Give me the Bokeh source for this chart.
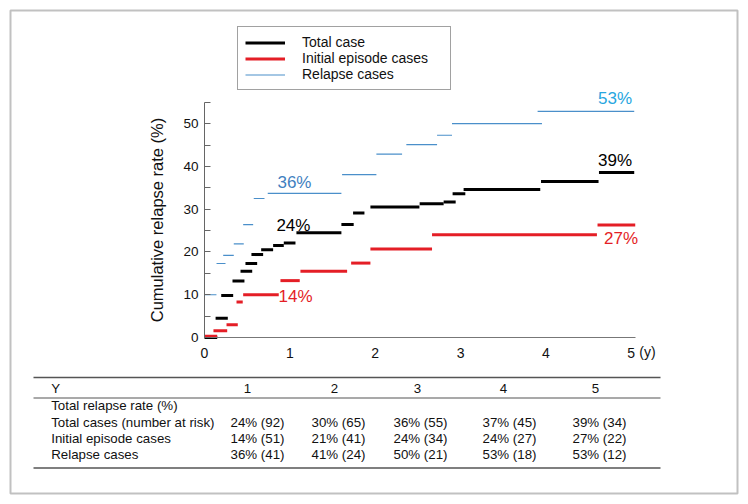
from bokeh.plotting import figure
from bokeh.models import (Range1d, FixedTicker, Label, BoxAnnotation, Legend,
                          LegendItem, ColumnDataSource)
from bokeh.embed import file_html
from bokeh.resources import INLINE

# ---------------- data ----------------
# Total case: step segments (start year, end year, cumulative relapse %)
total_start = [0.00, 0.13, 0.196, 0.328, 0.422, 0.480, 0.550, 0.664, 0.804, 0.929,
               1.077, 1.604, 1.741, 1.944, 2.521, 2.802, 2.907, 3.036, 3.943, 4.622]
total_end   = [0.149, 0.273, 0.336, 0.468, 0.559, 0.617, 0.687, 0.804, 0.929, 1.066,
               1.604, 1.748, 1.874, 2.518, 2.802, 2.943, 3.056, 3.934, 4.617, 5.035]
total_rate  = [0.0, 4.5, 9.8, 13.2, 15.5, 17.3, 19.4, 20.5, 21.5, 22.1,
               24.5, 26.4, 29.1, 30.5, 31.3, 31.7, 33.6, 34.6, 36.5, 38.6]

# Initial episode cases
initial_start = [0.00, 0.105, 0.258, 0.375, 0.453, 0.890, 1.124, 1.718, 1.944, 2.666, 4.605]
initial_end   = [0.149, 0.266, 0.390, 0.448, 0.870, 1.116, 1.671, 1.944, 2.666, 4.598, 5.047]
initial_rate  = [0.3, 1.6, 3.0, 8.3, 10.0, 13.3, 15.5, 17.4, 20.7, 24.0, 26.3]

# Relapse cases
relapse_start = [0.00, 0.141, 0.219, 0.343, 0.453, 0.577, 0.741, 1.612, 2.014, 2.365,
                 2.725, 2.900, 3.903]
relapse_end   = [0.14, 0.246, 0.343, 0.460, 0.570, 0.703, 1.604, 2.014, 2.315, 2.725,
                 2.900, 3.954, 5.035]
relapse_rate  = [10.0, 17.3, 19.2, 21.9, 26.4, 32.5, 33.7, 38.1, 42.9, 45.1,
                 47.3, 50.0, 52.9]

series_names = ["Total case", "Initial episode cases", "Relapse cases"]

x_ticks = [0, 1, 2, 3, 4, 5]
y_major = [0, 10, 20, 30, 40, 50]
y_minor = [5, 15, 25, 35, 45, 55]

# Annotated percentages
annot_text = ["36%", "24%", "14%", "53%", "39%", "27%"]

# Table
table_years = ["1", "2", "3", "4", "5"]
row_names = ["Total relapse rate (%)", "Total cases (number at risk)",
             "Initial episode cases", "Relapse cases"]
total_pct = [24, 30, 36, 37, 39]
total_n = [92, 65, 55, 45, 34]
initial_pct = [14, 21, 24, 24, 27]
initial_n = [51, 41, 34, 27, 22]
relapse_pct = [36, 41, 50, 53, 53]
relapse_n = [41, 24, 21, 18, 12]

# ---------------- styling / layout ----------------
FONT = "Liberation Sans"
BLACK = "#000000"
RED = "#e41e26"
BLUE = "#4a8fca"
W, H = 740, 496

# chart region inside the canvas (pixels): x 0 -> 204, 5.05 -> 635 ; y 0 -> 337, 55 -> 101.8
X_END, Y_END = 5.05, 55.0
PX_L, PX_R, PY_B, PY_T = 204.0, 635.0, 337.0, 101.8
sx = (PX_R - PX_L) / X_END
sy = (PY_B - PY_T) / Y_END
x_lo = -PX_L / sx
x_hi = x_lo + W / sx
y_lo = -(H - PY_B) / sy
y_hi = y_lo + H / sy

p = figure(width=W, height=H, output_backend="svg", toolbar_location=None,
           x_range=Range1d(x_lo, x_hi), y_range=Range1d(y_lo, y_hi),
           min_border=0, min_border_left=0, min_border_right=0,
           min_border_top=0, min_border_bottom=0)
p.background_fill_color = "white"
p.border_fill_color = "white"
p.outline_line_color = None
p.xgrid.visible = False
p.ygrid.visible = False

xa = p.xaxis[0]
xa.fixed_location = 0
xa.bounds = (0, X_END)
xa.ticker = FixedTicker(ticks=x_ticks)
xa.major_tick_in = 0
xa.major_tick_out = 0
xa.minor_tick_in = 0
xa.minor_tick_out = 0
xa.axis_line_color = "#777777"
xa.major_label_text_font = FONT
xa.major_label_text_font_size = "14px"
xa.major_label_text_color = "#111111"
xa.major_label_standoff = 10

ya = p.yaxis[0]
ya.fixed_location = 0
ya.bounds = (0, Y_END)
ya.ticker = FixedTicker(ticks=y_major, minor_ticks=y_minor)
ya.major_tick_in = 6
ya.major_tick_out = 0
ya.minor_tick_in = 6
ya.minor_tick_out = 0
ya.axis_line_color = "#666666"
ya.major_tick_line_color = "#666666"
ya.minor_tick_line_color = "#666666"
ya.major_label_text_font = FONT
ya.major_label_text_font_size = "13.5px"
ya.major_label_text_color = "#111111"
ya.major_label_standoff = 6
ya.axis_label = "Cumulative relapse rate (%)"
ya.axis_label_text_font = FONT
ya.axis_label_text_font_size = "16.5px"
ya.axis_label_text_font_style = "normal"
ya.axis_label_text_color = "#111111"
ya.axis_label_standoff = 14

src_total = ColumnDataSource(dict(x0=total_start, x1=total_end, y=total_rate))
src_init = ColumnDataSource(dict(x0=initial_start, x1=initial_end, y=initial_rate))
src_rel = ColumnDataSource(dict(x0=relapse_start, x1=relapse_end, y=relapse_rate))

r_total = p.segment(x0="x0", y0="y", x1="x1", y1="y", source=src_total,
                    line_color=BLACK, line_width=3)
r_init = p.segment(x0="x0", y0="y", x1="x1", y1="y", source=src_init,
                   line_color=RED, line_width=3)
r_rel = p.segment(x0="x0", y0="y", x1="x1", y1="y", source=src_rel,
                  line_color=BLUE, line_width=1.2)

legend = Legend(items=[LegendItem(label=series_names[0], renderers=[r_total]),
                       LegendItem(label=series_names[1], renderers=[r_init]),
                       LegendItem(label=series_names[2], renderers=[r_rel])],
                location=(237, H - 90), orientation="vertical",
                border_line_color="#444444", border_line_width=1,
                background_fill_color="white", background_fill_alpha=1,
                padding=7, spacing=0, margin=0,
                glyph_width=40, glyph_height=15, label_height=15,
                label_standoff=17, label_width=141,
                label_text_font=FONT, label_text_font_size="14px",
                label_text_color="#111111")
p.add_layout(legend)

# percentage annotations (data coordinates)
annot_x = [1.054, 1.042, 1.066, 4.81, 4.81, 4.88]
annot_y = [36.3, 26.2, 9.6, 55.8, 41.4, 23.1]
annot_colors = ["#3f7fc0", BLACK, RED, "#27a6e0", BLACK, RED]
for t, x, y, c in zip(annot_text, annot_x, annot_y, annot_colors):
    p.add_layout(Label(x=x, y=y, text=t, text_align="center", text_baseline="middle",
                       text_font=FONT, text_font_size="17px", text_color=c))

# "(y)" unit after the last x tick label
p.add_layout(Label(x=5, y=351.5, x_units="data", y_units="canvas", x_offset=8,
                   text="(y)", text_align="left", text_baseline="middle",
                   text_font=FONT, text_font_size="14px", text_color="#111111"))

# ---------------- table below the chart ----------------
def hline(y, thick, color="#555555", left=33, right=660):
    return BoxAnnotation(left=left, right=right, top=y - thick / 2, bottom=y + thick / 2,
                         left_units="canvas", right_units="canvas",
                         top_units="canvas", bottom_units="canvas",
                         fill_color=color, fill_alpha=1, line_color=None)

p.add_layout(hline(377, 1.3))
p.add_layout(hline(397.5, 1.1))
p.add_layout(hline(467.5, 1.3))

row_y = [388, 405.3, 422, 438, 453.7]
head_x = [247, 334, 417, 503, 595]
val_x = [257, 338, 420, 509, 599]
TFS = "13.3px"

def tlabel(x, y, text, align):
    return Label(x=x, y=y, x_units="canvas", y_units="canvas", text=text,
                 text_align=align, text_baseline="middle", text_font=FONT,
                 text_font_size=TFS, text_color="#111111")

p.add_layout(tlabel(50.7, row_y[0], "Y", "left"))
for name, y in zip(row_names, row_y[1:]):
    p.add_layout(tlabel(50.7, y, name, "left"))
for yr, x in zip(table_years, head_x):
    p.add_layout(tlabel(x, row_y[0], yr, "center"))
for pcts, ns, y in [(total_pct, total_n, row_y[2]),
                    (initial_pct, initial_n, row_y[3]),
                    (relapse_pct, relapse_n, row_y[4])]:
    for pc, n, x in zip(pcts, ns, val_x):
        p.add_layout(tlabel(x, y, f"{pc}% ({n})", "center"))

# outer frame
p.add_layout(BoxAnnotation(left=10, right=737, top=10, bottom=493,
                           left_units="canvas", right_units="canvas",
                           top_units="canvas", bottom_units="canvas",
                           fill_alpha=0, line_color="#333333", line_width=2))

open("out.html", "w").write(file_html(p, INLINE))
